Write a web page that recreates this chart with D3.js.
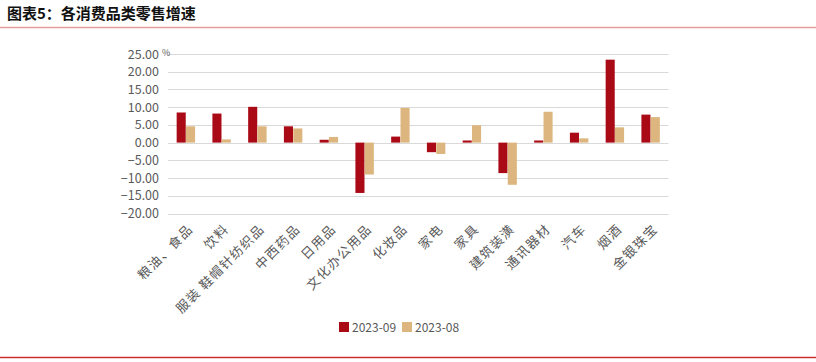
<!DOCTYPE html>
<html>
<head>
<meta charset="utf-8">
<script src="https://cdn.jsdelivr.net/npm/d3@7"></script>
<style>
  body { margin: 0; background: #fff; }
  text { font-family: "Noto Sans CJK SC", "Microsoft YaHei", sans-serif; }
</style>
</head>
<body>
<div id="chart"></div>
<script>
// 数据
const categories = ["粮油、食品", "饮料", "服装 鞋帽针纺织品", "中西药品", "日用品", "文化办公用品", "化妆品",
  "家电", "家具", "建筑装潢", "通讯器材", "汽车", "烟酒", "金银珠宝"];
const sep2023 = [8.5, 8.2, 10.1, 4.6, 0.8, -14.2, 1.7, -2.7, 0.6, -8.6, 0.6, 2.8, 23.4, 7.9];
const aug2023 = [4.6, 0.9, 4.6, 4.0, 1.6, -9.0, 9.8, -3.2, 4.9, -11.9, 8.7, 1.2, 4.3, 7.2];
const seriesNames = ["2023-09", "2023-08"];
const yTicks = [25, 20, 15, 10, 5, 0, -5, -10, -15, -20];
const colors = ["#AA0A16", "#DDB57E"];

const W = 816, H = 362;
const svg = d3.select("#chart").append("svg")
  .attr("width", W).attr("height", H);

// 标题
svg.append("text")
  .attr("x", 7).attr("y", 19)
  .attr("font-size", 15).attr("font-weight", "bold")
  .attr("fill", "#111")
  .text("图表5：各消费品类零售增速");

svg.append("line")
  .attr("x1", 0).attr("x2", W).attr("y1", 27.5).attr("y2", 27.5)
  .attr("stroke", "#E89A9A").attr("stroke-width", 1.5);

svg.append("line")
  .attr("x1", 0).attr("x2", W).attr("y1", 357.5).attr("y2", 357.5)
  .attr("stroke", "#C9302C").attr("stroke-width", 1.5);

// 比例尺
const x = d3.scaleBand().domain(categories).range([168, 668.5]);
const y = d3.scaleLinear().domain([-20, 25]).range([213.5, 54]);
const xs = d3.scaleBand().domain(seriesNames).range([0, 19]).padding(0.03);

// 网格线
svg.append("g").selectAll("line")
  .data(yTicks)
  .join("line")
  .attr("x1", 168).attr("x2", 668.5)
  .attr("y1", d => Math.round(y(d)) + 0.5)
  .attr("y2", d => Math.round(y(d)) + 0.5)
  .attr("stroke", "#D9D9D9").attr("stroke-width", 1);

// Y轴标签
svg.append("g").selectAll("text")
  .data(yTicks)
  .join("text")
  .attr("x", 159).attr("y", d => y(d) + 4.5)
  .attr("text-anchor", "end")
  .attr("font-size", 12.5).attr("fill", "#595959")
  .attr("font-family", "'Liberation Sans', Arial, sans-serif")
  .text(d => d3.format(".2f")(d));

svg.append("text")
  .attr("x", 162).attr("y", y(25) + 2)
  .attr("font-size", 9).attr("fill", "#595959")
  .text("%");

// 柱子
const series = [sep2023, aug2023];
series.forEach((vals, si) => {
  svg.append("g").selectAll("rect")
    .data(categories.map((c, i) => ({c, v: vals[i]})))
    .join("rect")
    .attr("x", d => x(d.c) + x.bandwidth() / 2 - 9.5 + xs(seriesNames[si]))
    .attr("width", xs.bandwidth())
    .attr("y", d => y(Math.max(0, d.v)))
    .attr("height", d => Math.abs(y(d.v) - y(0)))
    .attr("fill", colors[si]);
});

// X轴标签
svg.append("g").selectAll("text")
  .data(categories)
  .join("text")
  .attr("transform", d => `translate(${x(d) + x.bandwidth() / 2 + 8},${230}) rotate(-45)`)
  .attr("text-anchor", "end")
  .attr("font-size", 13).attr("fill", "#595959")
  .attr("letter-spacing", 1.3)
  .text(d => d);

// 图例
const legend = svg.append("g").attr("transform", "translate(339,322)");
seriesNames.forEach((name, i) => {
  const g = legend.append("g").attr("transform", `translate(${i * 63},0)`);
  g.append("rect").attr("width", 10).attr("height", 10).attr("fill", colors[i]);
  g.append("text")
    .attr("x", 13).attr("y", 9.5)
    .attr("font-size", 12).attr("fill", "#595959")
    .attr("font-family", "'Liberation Sans', Arial, sans-serif")
    .text(name);
});
</script>
</body>
</html>
